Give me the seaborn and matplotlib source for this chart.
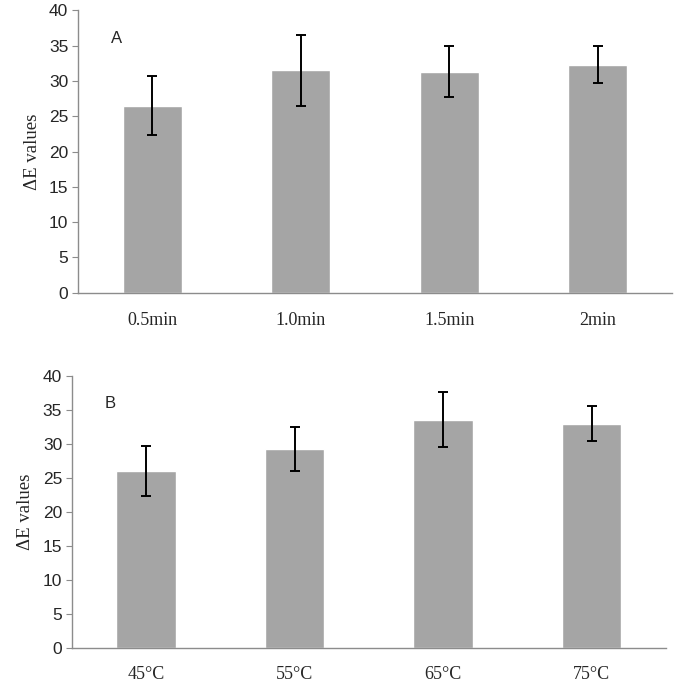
import matplotlib
matplotlib.use("Agg")
import matplotlib.pyplot as plt
import numpy as np
import pandas as pd
import seaborn as sns

# panel A: immersion time
time_labels = ["0.5min", "1.0min", "1.5min", "2min"]
time_means = [26.5, 31.5, 31.3, 32.3]
time_err = [4.2, 5.0, 3.6, 2.65]

# panel B: temperature
temp_labels = ["45\u00b0C", "55\u00b0C", "65\u00b0C", "75\u00b0C"]
temp_means = [26.0, 29.3, 33.6, 33.0]
temp_err = [3.7, 3.2, 4.0, 2.6]

y_ticks = [0, 5, 10, 15, 20, 25, 30, 35, 40]

sns.set_style("white")
bar_color = "#a5a5a5"
spine_color = "#8c8c8c"


def draw_panel(ax, labels, means, errs, letter):
    df = pd.DataFrame({"cond": labels, "dE": means})
    sns.barplot(data=df, x="cond", y="dE", color=bar_color, width=0.4,
                saturation=1, errorbar=None, ax=ax)
    ax.errorbar(np.arange(len(labels)), means, yerr=errs, fmt="none",
                ecolor="black", elinewidth=1.4, capsize=3.5, capthick=1.4)
    ax.set_xlim(-0.5, len(labels) - 0.5)
    ax.set_ylim(0, 40)
    ax.set_yticks(y_ticks)
    ax.set_xlabel("")
    ax.set_ylabel("\u0394E values", family="Liberation Serif", fontsize=13.5,
                  labelpad=6)
    for sp in ["top", "right"]:
        ax.spines[sp].set_visible(False)
    for sp in ["left", "bottom"]:
        ax.spines[sp].set_color(spine_color)
        ax.spines[sp].set_linewidth(1.0)
    ax.tick_params(axis="y", left=True, length=4, color=spine_color,
                   labelsize=12.5, pad=3)
    ax.tick_params(axis="x", bottom=False, labelsize=13, pad=10)
    for t in ax.get_yticklabels():
        t.set_family("Liberation Sans")
    for t in ax.get_xticklabels():
        t.set_family("Liberation Serif")
    ax.text(0.055, 0.9, letter, transform=ax.transAxes, fontsize=12,
            family="Liberation Sans", ha="left", va="center")


fig = plt.figure(figsize=(6.85, 6.84), dpi=100)
ax_a = fig.add_axes([0.114, 0.572, 0.867, 0.413])
ax_b = fig.add_axes([0.105, 0.053, 0.867, 0.397])

draw_panel(ax_a, time_labels, time_means, time_err, "A")
draw_panel(ax_b, temp_labels, temp_means, temp_err, "B")

fig.savefig("out.png", dpi=100)
